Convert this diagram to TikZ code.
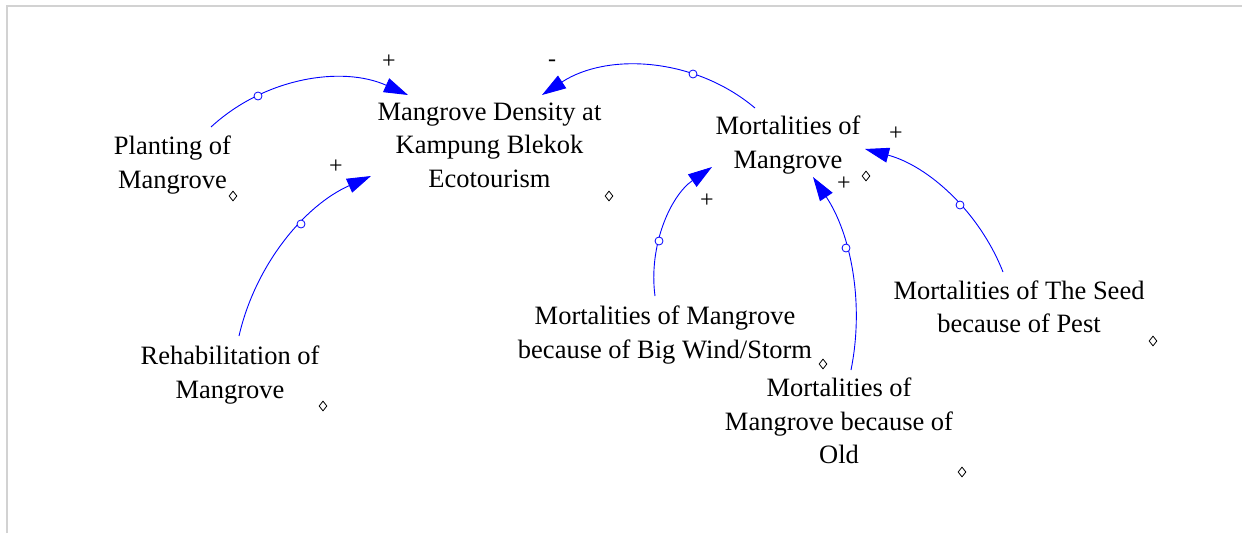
\documentclass[tikz,border=0pt]{standalone}
\usepackage{fontspec}
\setmainfont{LiberationSerif}[Extension=.ttf,UprightFont=*-Regular]
\usetikzlibrary{arrows.meta,shapes.geometric}
\definecolor{vblue}{RGB}{0,0,255}
\definecolor{framegray}{RGB}{210,210,210}
\begin{document}
\begin{tikzpicture}[x=1pt,y=1pt,
  var/.style={align=center,inner sep=0pt,font=\fontsize{26.5}{33.5}\selectfont},
  link/.style={draw=vblue,line width=0.9pt,-{Triangle[length=24pt,width=15pt]}},
  handle/.style={circle,draw=vblue,fill=white,line width=0.8pt,minimum size=8pt,inner sep=0pt},
  vmark/.style={diamond,draw=black,line width=0.8pt,minimum width=8pt,minimum height=10pt,inner sep=0pt},
  pol/.style={font=\fontsize{24}{24}\selectfont,inner sep=0pt}]
\useasboundingbox (0,0) rectangle (1242,-533);
\fill[white] (0,0) rectangle (1242,-533);
\draw[framegray,line width=1.5pt] (7,-533) -- (7,-6) -- (1242,-6);

% variables
\node[var] (plant) at (172.5,-165) {Planting of\\Mangrove};
\node[var] (dens)  at (489.5,-145) {Mangrove Density at\\Kampung Blekok\\Ecotourism};
\node[var] (mort)  at (788,-145) {Mortalities of\\Mangrove};
\node[var] (rehab) at (230,-375) {Rehabilitation of\\Mangrove};
\node[var] (wind)  at (665,-335) {Mortalities of Mangrove\\because of Big Wind/Storm};
\node[var] (old)   at (839,-421) {Mortalities of\\Mangrove because of\\Old};
\node[var] (seed)  at (1019,-307) {Mortalities of The Seed\\because of Pest};

% variable markers
\node[vmark] (m1) at (233,-196) {};
\node[vmark] (m2) at (609,-196) {};
\node[vmark] (m3) at (866,-176) {};
\node[vmark] (m4) at (323,-406) {};
\node[vmark] (m5) at (823,-364) {};
\node[vmark] (m6) at (962,-472) {};
\node[vmark] (m7) at (1153,-341) {};

% connector ends
\coordinate (plantS) at (211,-127);  \coordinate (densA) at (408,-95);
\coordinate (rehabS) at (239,-336);  \coordinate (densB) at (371,-176);
\coordinate (mortS)  at (755,-108);  \coordinate (densC) at (542,-95);
\coordinate (windS)  at (655,-296);  \coordinate (mortA) at (712,-167);
\coordinate (oldS)   at (851,-370);  \coordinate (mortB) at (813,-177);
\coordinate (seedS)  at (1003,-272); \coordinate (mortC) at (865,-149);

\draw[link] (plantS) to[out=42.7,in=155.9,looseness=0.93] (densA);
\draw[link] (rehabS) to[out=77.1,in=203.9,looseness=0.90] (densB);
\draw[link] (mortS)  to[out=139.9,in=33.1,looseness=0.94] (densC);
\draw[link] (windS)  to[out=97.6,in=214.7,looseness=0.92] (mortA);
\draw[link] (oldS)   to[out=78.6,in=-56.3,looseness=0.89] (mortB);
\draw[link] (seedS)  to[out=111.5,in=-14.9,looseness=0.90] (mortC);

% handles
\node[handle] (h1) at (258,-96) {};
\node[handle] (h2) at (301,-224) {};
\node[handle] (h3) at (693,-74) {};
\node[handle] (h4) at (659,-241) {};
\node[handle] (h5) at (846,-248) {};
\node[handle] (h6) at (960,-205) {};

% polarities
\node[pol] (s1) at (389,-62) {+};
\node[pol] (s2) at (336,-167) {+};
\node[pol] (s3) at (552,-63) {-};
\node[pol] (s4) at (707,-201) {+};
\node[pol] (s5) at (844,-184) {+};
\node[pol] (s6) at (896,-134) {+};
\end{tikzpicture}
\end{document}
